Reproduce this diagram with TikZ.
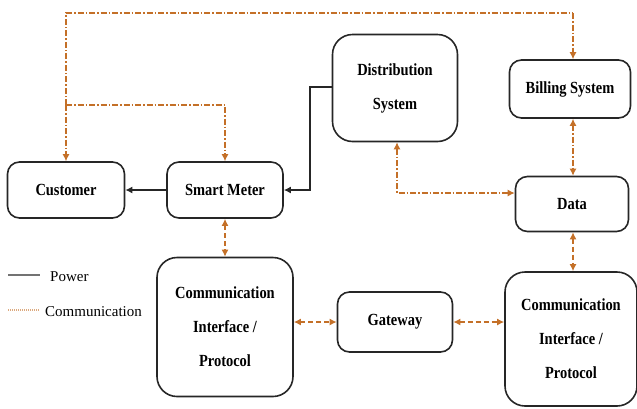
\documentclass[tikz,border=0pt]{standalone}
\usepackage{fontspec}
\setmainfont{Liberation Serif}[FakeStretch=0.85]
\newfontfamily\legfont{Liberation Serif}
\usetikzlibrary{arrows.meta}
\definecolor{comm}{RGB}{196,112,40}
\begin{document}
\begin{tikzpicture}[x=1pt,y=-1pt,
  box/.style={draw=black!85,line width=1.6pt,rounded corners=12pt,align=center,
    font=\bfseries\fontsize{17}{34}\selectfont,inner sep=0pt},
  bigbox/.style={box,rounded corners=20pt},
  power/.style={draw=black!85,line width=1.4pt,-{Latex[length=7pt,width=7pt]}},
  dashdot/.style={draw=comm,line width=1.2pt,dash pattern=on 6pt off 2pt on 1.5pt off 2pt,
    {Latex[length=7pt,width=7pt]}-{Latex[length=7pt,width=7pt]}},
  dashdotend/.style={draw=comm,line width=1.2pt,dash pattern=on 6pt off 2pt on 1.5pt off 2pt,
    -{Latex[length=7pt,width=7pt]}},
  dashd/.style={draw=comm,line width=1.8pt,dash pattern=on 5pt off 3pt,
    {Latex[length=7pt,width=7pt]}-{Latex[length=7pt,width=7pt]}},
  legtext/.style={font=\legfont\fontsize{15}{18}\selectfont,anchor=west,inner sep=0pt}
]
\useasboundingbox (0,0) rectangle (637,408);

\node[box,minimum width=117pt,minimum height=56pt] (cust) at (66,190) {Customer};
\node[box,minimum width=116pt,minimum height=56pt] (sm) at (225,190) {Smart Meter};
\node[bigbox,minimum width=125pt,minimum height=107pt] (dist) at (395,88) {Distribution\\System};
\node[box,minimum width=121pt,minimum height=58pt] (bill) at (570,89) {Billing System};
\node[box,minimum width=113pt,minimum height=55pt] (data) at (572,204) {Data};
\node[bigbox,minimum width=136pt,minimum height=139pt] (ciL) at (225,327) {Communication\\Interface /\\Protocol};
\node[box,minimum width=115pt,minimum height=60pt] (gw) at (395,322) {Gateway};
\node[bigbox,minimum width=132pt,minimum height=134pt] (ciR) at (571,339) {Communication\\Interface /\\Protocol};

% power
\coordinate (p1) at (310,87);
\coordinate (p2) at (310,190);
\draw[power,rounded corners=0pt] (dist.west |- p1) -- (p1) -- (p2) -- (sm.east);
\draw[power] (sm.west) -- (cust.east);

% communication loops
\coordinate (t1) at (66,13);
\coordinate (t2) at (573,13);
\coordinate (m1) at (66,105);
\coordinate (m2) at (225,105);
\draw[dashdotend] (t2) -- (t2 |- bill.north);
\draw[dashdot,-] (cust.north |- m1) -- (t1) -- (t2);
\draw[dashdotend] (m1) -- (cust.north);
\draw[dashdotend] (m1) -- (m2) -- (sm.north);

% distribution <-> data
\coordinate (d1) at (397,193);
\draw[dashdot] (dist.south -| d1) -- (d1) -- (data.west |- d1);

% billing <-> data
\draw[dashdot] (bill.south -| t2) -- (data.north -| t2);

% lower links
\draw[dashd] (sm.south) -- (ciL.north);
\draw[dashd] (ciL.east |- gw) -- (gw.west);
\draw[dashd] (gw.east) -- (ciR.west |- gw);
\draw[dashd] (data.south -| t2) -- (ciR.north -| t2);

% legend
\coordinate (l1) at (8,275);
\coordinate (l2) at (40,275);
\coordinate (l3) at (8,310);
\coordinate (l4) at (40,310);
\draw[black!55,line width=1.5pt] (l1) -- (l2);
\node[legtext] (lp) at (50,277) {Power};
\draw[comm!60,line width=1.2pt,dash pattern=on 1pt off 1pt] (l3) -- (l4);
\node[legtext] (lc) at (45,311.5) {Communication};
\end{tikzpicture}
\end{document}
